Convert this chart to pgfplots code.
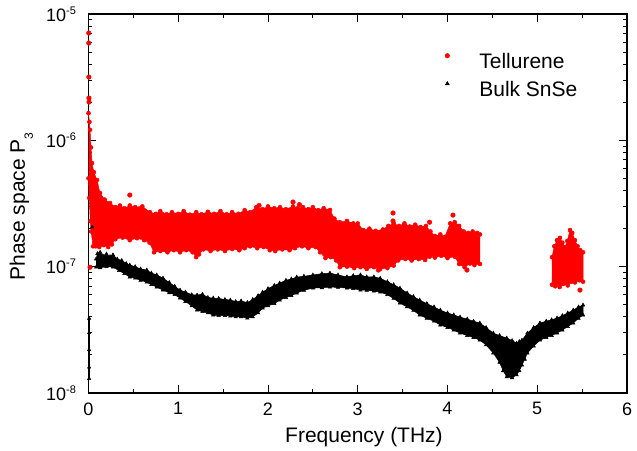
\documentclass[border=0pt]{standalone}
\usepackage{fontspec}
\setmainfont{Liberation Sans}
\usepackage{pgfplots}
\pgfplotsset{compat=1.18}
\newcommand{\ylab}[1]{10\raisebox{7bp}{\fontsize{11bp}{11bp}\selectfont -#1}}
\begin{document}
\begin{tikzpicture}
\useasboundingbox (0,0) rectangle (637bp,451bp);
\begin{axis}[
 at={(88.5bp,58bp)}, anchor=south west,
 width=538.5bp, height=379bp, scale only axis,
 xmin=0, xmax=6, ymin=1e-8, ymax=1e-5, ymode=log,
 clip=false,
 xtick={0,1,2,3,4,5,6}, minor x tick num=1,
 ytick={1e-8,1e-7,1e-6,1e-5},
 yticklabels={\ylab{8},\ylab{7},\ylab{6},\ylab{5}},
 tick align=inside,
 major tick length=8bp, minor tick length=4bp,
 every tick/.style={black, line width=1bp},
 axis line style={line width=1.4bp},
 /pgf/number format/assume math mode=true,
 tick label style={font=\fontsize{18bp}{21bp}\selectfont},
 xticklabel style={yshift=-6bp},
 yticklabel style={xshift=-9bp},
 xlabel={Frequency (THz)},
 ylabel={Phase space P\raisebox{-8bp}{\fontsize{12bp}{12bp}\selectfont 3}},
 label style={font=\fontsize{21bp}{25bp}\selectfont},
 xlabel style={at={([yshift=-49bp]axis description cs:0.5116,0)}, anchor=base},
 ylabel style={at={([xshift=-63.5bp]axis description cs:0,0.492)}, anchor=base},
 legend style={draw=none, fill=none, at={(rel axis cs:0.6617,0.8997)}, anchor=north west,
   font=\fontsize{21bp}{25bp}\selectfont, row sep=7bp, inner sep=0pt,
   nodes={inner sep=0pt, text height=16bp, text depth=5bp}},
 legend cell align=left,
 legend image code/.code={\path[draw=none] (0bp,0bp) -- (32bp,0bp); \draw[#1] plot coordinates {(0bp,7bp)};},
]
% Bulk SnSe band
\addplot[forget plot, draw=black, fill=black, line width=0.5bp, mark=triangle*, mark size=2bp] coordinates {
(0.085,1.15e-7)(0.10,1.27e-7)(0.13,1.30e-7)(0.16,1.22e-7)(0.20,1.26e-7)(0.24,1.2e-7)(0.273,1.24e-7)(0.32,1.15e-7)(0.37,1.12e-7)(0.42,1.06e-7)(0.46,1.03e-7)(0.52,1.0e-7)(0.58,9.6e-8)(0.65,9.4e-8)(0.70,8.9e-8)(0.76,8.6e-8)(0.83,8.12e-8)(0.90,7.5e-8)(0.96,7.0e-8)(1.02,6.53e-8)(1.08,6.3e-8)(1.15,6.0e-8)(1.21,5.96e-8)(1.27,6.05e-8)(1.33,5.7e-8)(1.39,5.64e-8)(1.45,5.6e-8)(1.52,5.5e-8)(1.58,5.44e-8)(1.64,5.3e-8)(1.70,5.35e-8)(1.77,5.2e-8)(1.83,5.5e-8)(1.89,5.9e-8)(1.94,6.29e-8)(2.0,6.7e-8)(2.07,7.1e-8)(2.13,7.42e-8)(2.2,7.8e-8)(2.26,8.0e-8)(2.32,8.27e-8)(2.4,8.4e-8)(2.5,8.6e-8)(2.6,8.8e-8)(2.69,8.9e-8)(2.78,8.6e-8)(2.88,8.3e-8)(2.95,8.5e-8)(3.03,8.6e-8)(3.1,8.3e-8)(3.18,8.3e-8)(3.25,8.1e-8)(3.33,7.6e-8)(3.40,7.2e-8)(3.47,6.77e-8)(3.55,6.2e-8)(3.62,5.8e-8)(3.69,5.44e-8)(3.77,5.1e-8)(3.85,4.8e-8)(3.92,4.53e-8)(4.0,4.3e-8)(4.07,4.15e-8)(4.14,3.99e-8)(4.22,3.85e-8)(4.29,3.7e-8)(4.36,3.58e-8)(4.43,3.3e-8)(4.51,2.98e-8)(4.58,2.85e-8)(4.66,2.72e-8)(4.72,2.6e-8)(4.77,2.48e-8)(4.80,2.55e-8)(4.83,2.62e-8)(4.89,2.98e-8)(4.96,3.3e-8)(5.03,3.58e-8)(5.1,3.7e-8)(5.16,3.8e-8)(5.22,3.92e-8)(5.28,4.1e-8)(5.34,4.3e-8)(5.40,4.53e-8)(5.46,4.8e-8)(5.51,4.97e-8)
(5.51,4.14e-8)(5.46,3.9e-8)(5.40,3.58e-8)(5.34,3.35e-8)(5.28,3.15e-8)(5.22,2.98e-8)(5.16,2.85e-8)(5.1,2.75e-8)(5.03,2.62e-8)(4.96,2.35e-8)(4.89,2.07e-8)(4.86,1.85e-8)(4.83,1.66e-8)(4.80,1.5e-8)(4.77,1.39e-8)(4.72,1.32e-8)(4.66,1.34e-8)(4.62,1.5e-8)(4.58,1.75e-8)(4.51,2.07e-8)(4.43,2.4e-8)(4.36,2.62e-8)(4.29,2.75e-8)(4.22,2.85e-8)(4.14,2.98e-8)(4.07,3.15e-8)(4.0,3.3e-8)(3.92,3.45e-8)(3.85,3.7e-8)(3.77,3.9e-8)(3.69,4.14e-8)(3.62,4.5e-8)(3.55,4.8e-8)(3.47,5.15e-8)(3.40,5.6e-8)(3.33,6.0e-8)(3.25,6.29e-8)(3.18,6.4e-8)(3.1,6.5e-8)(3.03,6.53e-8)(2.95,6.7e-8)(2.88,6.77e-8)(2.78,6.85e-8)(2.69,6.9e-8)(2.6,6.8e-8)(2.5,6.77e-8)(2.4,6.5e-8)(2.32,6.18e-8)(2.26,5.9e-8)(2.2,5.7e-8)(2.13,5.44e-8)(2.07,5.1e-8)(2.0,4.9e-8)(1.94,4.7e-8)(1.89,4.3e-8)(1.83,4.0e-8)(1.77,3.92e-8)(1.70,4.0e-8)(1.64,4.0e-8)(1.58,4.06e-8)(1.52,4.1e-8)(1.45,4.1e-8)(1.39,4.14e-8)(1.33,4.3e-8)(1.27,4.4e-8)(1.21,4.53e-8)(1.15,4.9e-8)(1.08,5.3e-8)(1.02,5.64e-8)(0.96,6.0e-8)(0.90,6.2e-8)(0.83,6.53e-8)(0.76,6.9e-8)(0.70,7.2e-8)(0.65,7.55e-8)(0.58,7.8e-8)(0.52,8.1e-8)(0.46,8.27e-8)(0.40,8.8e-8)(0.34,9.3e-8)(0.273,9.93e-8)(0.2,1.0e-7)(0.13,9.8e-8)(0.085,9.9e-8)
};
\addplot[forget plot, draw=black, line width=2.5bp] coordinates {(0.007,3.9e-8)(0.007,1.3e-8)};
\addplot[forget plot, only marks, black, mark=triangle*, mark size=2bp] coordinates {(0.007,3.9e-8)(0.007,3.0e-8)(0.007,2.2e-8)(0.007,1.6e-8)(0.007,1.3e-8)(0.04,2.06e-7)};
% Tellurene main band
\addplot[forget plot, draw=red, fill=red, line width=0.5bp, mark=*, mark size=2bp] coordinates {
(0.000,1.64e-6)(0.010,1.40e-6)(0.017,1.21e-6)(0.028,8.8e-7)(0.039,6.61e-7)(0.060,5.6e-7)(0.095,4.85e-7)(0.128,3.83e-7)(0.180,3.4e-7)(0.240,3.19e-7)(0.300,2.96e-7)(0.350,3.05e-7)(0.400,2.9e-7)(0.460,3.05e-7)(0.520,2.96e-7)(0.600,3.0e-7)(0.685,2.7e-7)(0.750,2.62e-7)(0.800,2.75e-7)(0.870,2.6e-7)(0.930,2.7e-7)(1.000,2.62e-7)(1.060,2.75e-7)(1.130,2.58e-7)(1.200,2.7e-7)(1.260,2.6e-7)(1.330,2.72e-7)(1.400,2.62e-7)(1.470,2.75e-7)(1.540,2.6e-7)(1.600,2.7e-7)(1.670,2.62e-7)(1.740,2.8e-7)(1.800,2.7e-7)(1.870,2.96e-7)(1.940,2.85e-7)(2.000,3.0e-7)(2.070,2.9e-7)(2.134,2.96e-7)(2.200,2.85e-7)(2.279,3.0e-7)(2.330,2.9e-7)(2.390,2.96e-7)(2.450,2.85e-7)(2.500,2.96e-7)(2.560,2.8e-7)(2.620,2.9e-7)(2.691,2.81e-7)(2.740,2.4e-7)(2.800,2.25e-7)(2.880,2.3e-7)(2.950,2.2e-7)(3.000,2.2e-7)(3.060,1.95e-7)(3.130,2.0e-7)(3.200,1.92e-7)(3.280,1.97e-7)(3.340,2.1e-7)(3.400,2.2e-7)(3.460,2.1e-7)(3.520,2.2e-7)(3.580,2.08e-7)(3.640,2.15e-7)(3.700,2.06e-7)(3.760,2.1e-7)(3.810,1.9e-7)(3.860,1.75e-7)(3.920,1.8e-7)(3.970,1.72e-7)(4.030,2.2e-7)(4.080,2.25e-7)(4.130,2.1e-7)(4.180,1.9e-7)(4.230,1.85e-7)(4.280,1.9e-7)(4.330,1.85e-7)(4.362,1.8e-7)
(4.362,1.05e-7)(4.300,1.03e-7)(4.250,1.06e-7)(4.190,9.9e-8)(4.130,1.05e-7)(4.080,1.2e-7)(4.000,1.17e-7)(3.930,1.22e-7)(3.860,1.18e-7)(3.800,1.2e-7)(3.750,1.13e-7)(3.680,1.15e-7)(3.600,1.12e-7)(3.530,1.15e-7)(3.450,1.12e-7)(3.400,1.02e-7)(3.330,9.75e-8)(3.250,9.6e-8)(3.180,9.9e-8)(3.100,9.6e-8)(3.030,9.9e-8)(2.960,9.75e-8)(2.880,1.0e-7)(2.800,9.9e-8)(2.760,1.12e-7)(2.700,1.19e-7)(2.640,1.17e-7)(2.580,1.3e-7)(2.530,1.43e-7)(2.450,1.4e-7)(2.380,1.45e-7)(2.300,1.4e-7)(2.240,1.35e-7)(2.160,1.37e-7)(2.080,1.33e-7)(2.020,1.35e-7)(1.950,1.43e-7)(1.880,1.4e-7)(1.800,1.45e-7)(1.740,1.4e-7)(1.680,1.35e-7)(1.600,1.38e-7)(1.520,1.33e-7)(1.440,1.37e-7)(1.360,1.33e-7)(1.280,1.37e-7)(1.230,1.25e-7)(1.200,1.19e-7)(1.160,1.3e-7)(1.090,1.35e-7)(1.020,1.3e-7)(0.950,1.35e-7)(0.880,1.3e-7)(0.800,1.33e-7)(0.730,1.3e-7)(0.680,1.55e-7)(0.620,1.62e-7)(0.540,1.68e-7)(0.460,1.62e-7)(0.380,1.7e-7)(0.300,1.65e-7)(0.260,1.5e-7)(0.220,1.43e-7)(0.170,1.48e-7)(0.120,1.43e-7)(0.080,1.45e-7)(0.050,1.45e-7)(0.030,1.9e-7)(0.020,2.3e-7)(0.008,3.5e-7)(0.000,5.0e-7)
};
% Tellurene high-frequency cluster
\addplot[forget plot, draw=red, fill=red, line width=0.5bp, mark=*, mark size=2bp] coordinates {
(5.164,1.19e-7)(5.19,1.45e-7)(5.22,1.62e-7)(5.253,1.69e-7)(5.28,1.55e-7)(5.31,1.43e-7)(5.335,1.6e-7)(5.365,1.95e-7)(5.39,1.85e-7)(5.42,1.62e-7)(5.45,1.45e-7)(5.48,1.35e-7)(5.51,1.3e-7)
(5.51,7.6e-8)(5.47,7.8e-8)(5.42,7.5e-8)(5.38,7.6e-8)(5.34,7.1e-8)(5.29,7.3e-8)(5.25,6.9e-8)(5.2,7.0e-8)(5.164,7.2e-8)
};
% Tellurene isolated points
\addplot[forget plot, only marks, red, mark=*, mark size=2.3bp] coordinates {
(0.003,7.07e-6)(0.003,5.89e-6)(0.004,3.17e-6)(0.005,2.16e-6)(0.006,2.01e-6)(0.017,9.9e-8)(0.46,3.69e-7)(2.279,3.25e-7)(3.393,2.66e-7)(3.393,2.3e-7)(4.061,2.56e-7)(3.23,9.4e-8)(4.217,9.4e-8)(5.476,6.53e-8)(1.9,3.05e-7)(3.8,2.25e-7)(2.35,3.1e-7)
};
\addlegendimage{only marks, mark=*, red, mark size=2.3bp}
\addlegendentry{Tellurene}
\addlegendimage{only marks, mark=triangle*, black, mark size=2.3bp}
\addlegendentry{Bulk SnSe}
\end{axis}
\end{tikzpicture}
\end{document}
